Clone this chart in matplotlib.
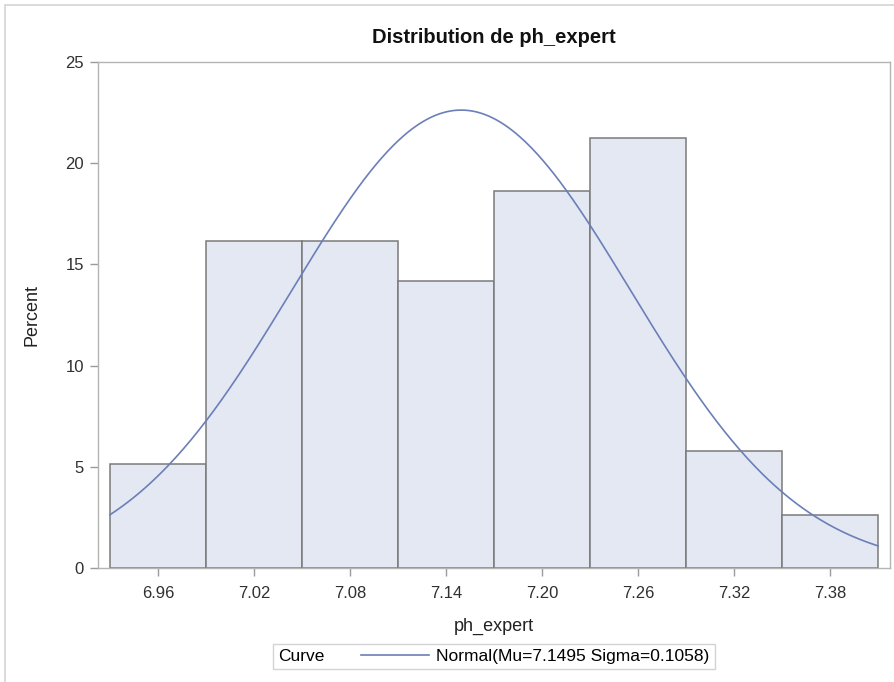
import numpy as np
import matplotlib
matplotlib.use("Agg")
import matplotlib.pyplot as plt
from matplotlib.patches import Rectangle
from matplotlib.lines import Line2D
from matplotlib.offsetbox import HPacker

plt.rcParams['font.family'] = ['Liberation Sans', 'DejaVu Sans']

bin_centers = [6.96, 7.02, 7.08, 7.14, 7.20, 7.26, 7.32, 7.38]
percents = [5.13, 16.15, 16.15, 14.2, 18.65, 21.25, 5.8, 2.6]
bin_width = 0.06
mu = 7.1495
sigma = 0.1058
tick_labels = ["6.96", "7.02", "7.08", "7.14", "7.20", "7.26", "7.32", "7.38"]
y_ticks = [0, 5, 10, 15, 20, 25]

fig = plt.figure(figsize=(8.94, 6.82), dpi=100)
fig.patches.append(Rectangle((0.0056, -0.01), 1.2, 1.0026, transform=fig.transFigure,
                             fill=False, edgecolor='#d4d4d4', linewidth=1.2))
ax = fig.add_axes([0.1096, 0.1672, 0.8859, 0.7419])

ax.bar(bin_centers, percents, width=bin_width, color='#e4e8f2',
       edgecolor='#7a7a7a', linewidth=1.1, zorder=2)

lo = bin_centers[0] - bin_width / 2
hi = bin_centers[-1] + bin_width / 2
xs = np.linspace(lo, hi, 400)
ys = 100 * bin_width * np.exp(-0.5 * ((xs - mu) / sigma) ** 2) / (sigma * np.sqrt(2 * np.pi))
ax.plot(xs, ys, color='#6b7fb8', linewidth=1.2, zorder=3)

ax.set_xlim(lo - 0.0075, hi + 0.0075)
ax.set_ylim(0, 25)
ax.set_xticks(bin_centers)
ax.set_xticklabels(tick_labels)
ax.set_yticks(y_ticks)

for s in ax.spines.values():
    s.set_color('#b4b4b4')
    s.set_linewidth(1.0)
ax.tick_params(axis='both', colors='#9a9a9a', labelcolor='#303030', labelsize=12,
               length=6, width=1.0, direction='out')
ax.tick_params(axis='x', pad=7)
ax.tick_params(axis='y', pad=4)

ax.set_title("Distribution de ph_expert", fontsize=14.5, fontweight='bold', pad=14, color='#111111')
ax.set_xlabel("ph_expert", fontsize=13, labelpad=12, color='#222222')
ax.set_ylabel("Percent", fontsize=13, labelpad=18, color='#222222')

handle = Line2D([], [], color='#6b7fb8', linewidth=1.2)
leg = fig.legend([handle], ["Normal(Mu=7.1495 Sigma=0.1058)"], title="Curve",
                 loc='center', bbox_to_anchor=(0.5526, 0.0374), ncol=1,
                 frameon=True, fancybox=False, fontsize=12.5, title_fontsize=12.5,
                 handlelength=3.9, handletextpad=0.45, borderpad=0.3,
                 alignment='left')
leg.get_frame().set_edgecolor('#c8c8c8')
leg.get_frame().set_linewidth(1.0)
title_box = leg._legend_title_box
handle_box = leg._legend_handle_box
leg._legend_box._children = [HPacker(pad=0, sep=26, align="center",
                                     children=[title_box, handle_box])]

fig.savefig("out.png", dpi=100)
